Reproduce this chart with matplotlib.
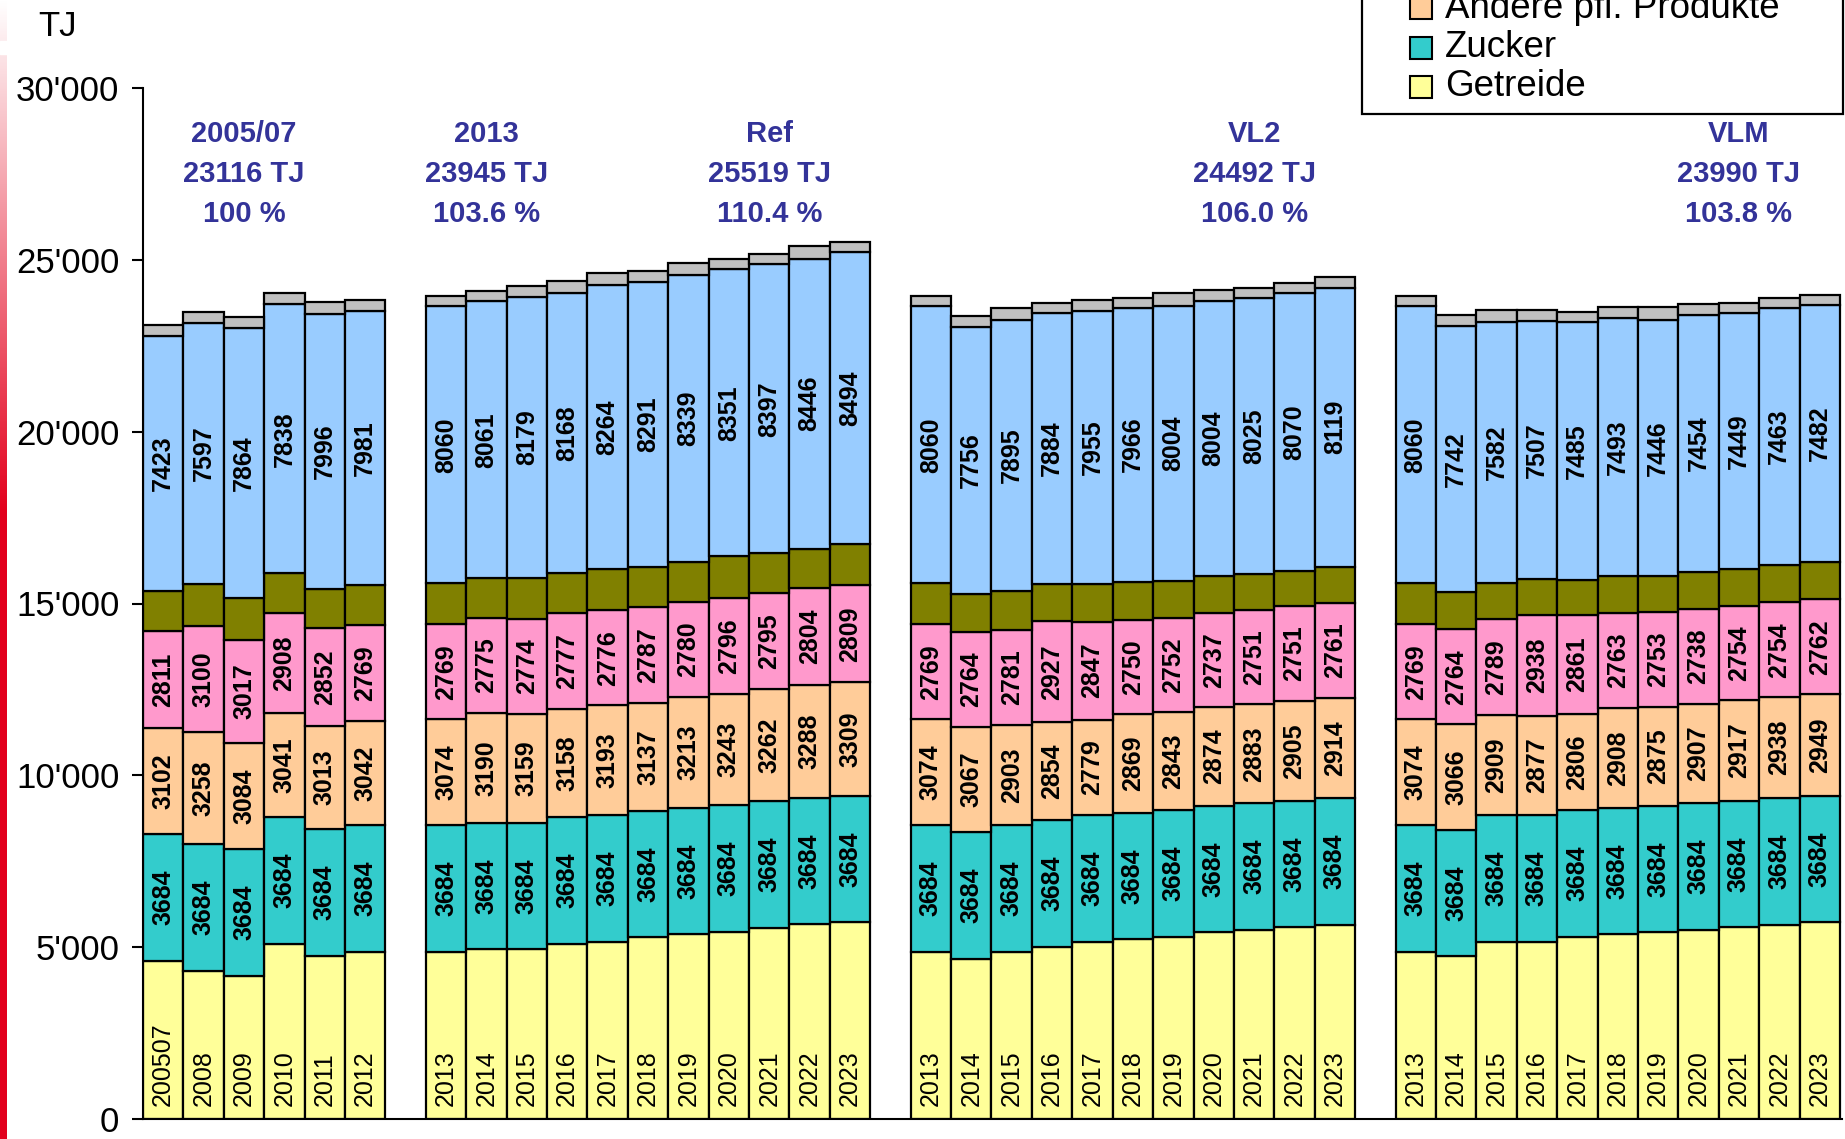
import numpy as np
import matplotlib
matplotlib.use("Agg")
import matplotlib.pyplot as plt
from matplotlib.patches import Rectangle
from matplotlib.ticker import FuncFormatter

# ---------- data (TJ), one list per block ----------
years = [
    ["200507", "2008", "2009", "2010", "2011", "2012"],
    ["2013", "2014", "2015", "2016", "2017", "2018", "2019", "2020", "2021", "2022", "2023"],
    ["2013", "2014", "2015", "2016", "2017", "2018", "2019", "2020", "2021", "2022", "2023"],
    ["2013", "2014", "2015", "2016", "2017", "2018", "2019", "2020", "2021", "2022", "2023"],
]

getreide = [
    [4597, 4306, 4161, 5092, 4743, 4869],
    [4869, 4936, 4936, 5092, 5160, 5286, 5373, 5441, 5567, 5664, 5722],
    [4869, 4665, 4869, 5014, 5160, 5228, 5305, 5431, 5499, 5577, 5654],
    [4869, 4732, 5160, 5160, 5305, 5373, 5431, 5499, 5577, 5654, 5722],
]
zucker = [
    [3684, 3684, 3684, 3684, 3684, 3684],
    [3684, 3684, 3684, 3684, 3684, 3684, 3684, 3684, 3684, 3684, 3684],
    [3684, 3684, 3684, 3684, 3684, 3684, 3684, 3684, 3684, 3684, 3684],
    [3684, 3684, 3684, 3684, 3684, 3684, 3684, 3684, 3684, 3684, 3684],
]
andere = [
    [3102, 3258, 3084, 3041, 3013, 3042],
    [3074, 3190, 3159, 3158, 3193, 3137, 3213, 3243, 3262, 3288, 3309],
    [3074, 3067, 2903, 2854, 2779, 2869, 2843, 2874, 2883, 2905, 2914],
    [3074, 3066, 2909, 2877, 2806, 2908, 2875, 2907, 2917, 2938, 2949],
]
rosa = [
    [2811, 3100, 3017, 2908, 2852, 2769],
    [2769, 2775, 2774, 2777, 2776, 2787, 2780, 2796, 2795, 2804, 2809],
    [2769, 2764, 2781, 2927, 2847, 2750, 2752, 2737, 2751, 2751, 2761],
    [2769, 2764, 2789, 2938, 2861, 2763, 2753, 2738, 2754, 2754, 2762],
]
oliv = [
    [1180, 1220, 1215, 1150, 1140, 1160],
    [1190, 1150, 1190, 1166, 1180, 1180, 1160, 1210, 1160, 1150, 1210],
    [1190, 1100, 1125, 1100, 1094, 1109, 1080, 1071, 1036, 1040, 1060],
    [1190, 1080, 1060, 1062, 1040, 1075, 1060, 1100, 1080, 1100, 1090],
]
hellblau = [
    [7423, 7597, 7864, 7838, 7996, 7981],
    [8060, 8061, 8179, 8168, 8264, 8291, 8339, 8351, 8397, 8446, 8494],
    [8060, 7756, 7895, 7884, 7955, 7966, 8004, 8004, 8025, 8070, 8119],
    [8060, 7742, 7582, 7507, 7485, 7493, 7446, 7454, 7449, 7463, 7482],
]
grau = [
    [319, 324, 299, 329, 343, 324],
    [299, 295, 324, 337, 348, 307, 347, 307, 302, 364, 291],
    [299, 320, 350, 290, 310, 291, 374, 320, 310, 310, 300],
    [299, 324, 354, 310, 290, 320, 367, 321, 291, 304, 301],
]

# header annotations: (block, bar index in block, text)
headers = [
    (0, 2, "2005/07\n23116 TJ\n100 %"),
    (1, 1, "2013\n23945 TJ\n103.6 %"),
    (1, 8, "Ref\n25519 TJ\n110.4 %"),
    (2, 8, "VL2\n24492 TJ\n106.0 %"),
    (3, 8, "VLM\n23990 TJ\n103.8 %"),
]

# layers bottom -> top: (data, colour, show value)
layers = [
    (getreide, "#FFFF99", False),
    (zucker, "#33CCCC", True),
    (andere, "#FFCC99", True),
    (rosa, "#FF99CC", True),
    (oliv, "#808000", False),
    (hellblau, "#99CCFF", True),
    (grau, "#C0C0C0", False),
]

# visible legend entries (top of the box is cut off in the original)
legend_labels = ["Andere pfl. Produkte", "Zucker", "Getreide"]
legend_colors = ["#FFCC99", "#33CCCC", "#FFFF99"]

plt.rcParams["font.family"] = ["Liberation Sans", "DejaVu Sans"]

W, H = 1845, 1139
fig = plt.figure(figsize=(W / 100, H / 100), dpi=100)
ax = fig.add_axes([143 / W, 20 / H, 1699 / W, 1031 / H])

# slot positions, one empty slot between blocks
xpos = []
start = 0
for yl in years:
    xpos.append(np.arange(len(yl)) + start + 0.5)
    start += len(yl) + 1
nslots = start - 1

for g in range(len(years)):
    bottom = np.zeros(len(years[g]))
    for data, col, show in layers:
        vals = np.array(data[g], dtype=float)
        ax.bar(xpos[g], vals, width=1.0, bottom=bottom, color=col,
               edgecolor="black", linewidth=1.6, zorder=2)
        if show:
            for x, b, v in zip(xpos[g], bottom, vals):
                ax.text(x, b + v / 2, str(int(v)), rotation=90, ha="center",
                        va="center", fontsize=18, fontweight="bold", zorder=3)
        bottom += vals
    for x, lab in zip(xpos[g], years[g]):
        ax.annotate(lab, (x, 0), xytext=(0, 9), textcoords="offset points",
                    rotation=90, ha="center", va="bottom", fontsize=18, zorder=3)

for g, i, txt in headers:
    ax.text(xpos[g][i], 27500, txt, ha="center", va="center", fontsize=21,
            fontweight="bold", color="#333399", linespacing=1.55)

ax.set_xlim(0, nslots + 0.05)
ax.set_ylim(0, 30000)
ax.set_yticks(np.arange(0, 30001, 5000))
ax.yaxis.set_major_formatter(FuncFormatter(lambda v, p: "{:,}".format(int(v)).replace(",", "'")))
ax.tick_params(axis="y", length=8, width=1.5, labelsize=25, pad=9)
ax.set_xticks([])
ax.spines["top"].set_visible(False)
ax.spines["right"].set_visible(False)
ax.spines["left"].set_linewidth(1.5)
ax.spines["bottom"].set_linewidth(1.5)

fig.text(38 / W, 1 - 27 / H, "TJ", ha="left", va="center", fontsize=25)

# legend box, drawn by hand so its top runs off the figure like the original
fig.add_artist(Rectangle((1362 / W, 1 - 114 / H), 481 / W, 0.2, transform=fig.transFigure,
                         facecolor="white", edgecolor="black", linewidth=1.6, zorder=5))
for k, (lab, col) in enumerate(zip(legend_labels, legend_colors)):
    yc = 1 - (8 + 39.5 * k) / H
    fig.add_artist(Rectangle((1410 / W, yc - 11 / H), 22 / W, 22 / H, transform=fig.transFigure,
                             facecolor=col, edgecolor="black", linewidth=1.5, zorder=6))
    fig.text(1445 / W, yc, lab, ha="left", va="center", fontsize=26.5, zorder=6)

# decorative red strip on the left edge
strip = fig.add_axes([0, 0, 7 / W, 1])
grad = np.clip(np.linspace(0, 1, 400) / 0.45, 0, 1)
red = np.array([0.89, 0.0, 0.11])
img = np.ones((400, 1, 3)) * (1 - grad[:, None, None]) + red * grad[:, None, None]
strip.imshow(img, aspect="auto", extent=(0, 1, 1, 0))
strip.axhspan(1 - 1098 / H, 1 - 1085 / H, color="white")
strip.set_xlim(0, 1)
strip.set_ylim(1, 0)
strip.axis("off")

fig.savefig("out.png", dpi=100)
